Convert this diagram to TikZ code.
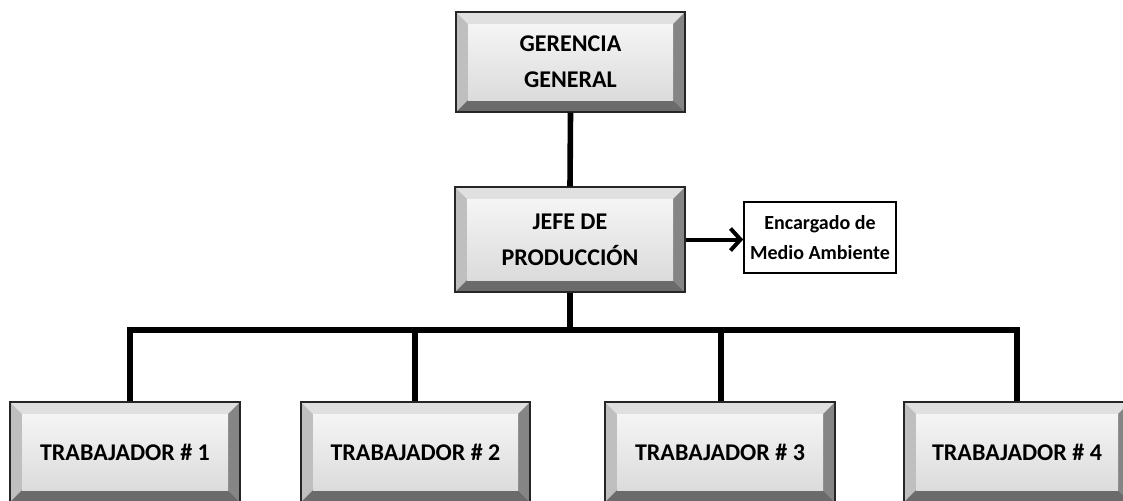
\documentclass[tikz,border=0pt]{standalone}
\usepackage{fontspec}
\setmainfont{Carlito}
\usetikzlibrary{arrows.meta, calc}

\tikzset{
  bevelbox/.style={draw=black!85, line width=0.6pt, inner sep=0pt, align=center,
    font=\fontsize{12}{18}\selectfont\bfseries,
    path picture={
      \coordinate (pnw) at (path picture bounding box.north west);
      \coordinate (pne) at (path picture bounding box.north east);
      \coordinate (psw) at (path picture bounding box.south west);
      \coordinate (pse) at (path picture bounding box.south east);
      % bevel edges
      \fill[black!12] (pnw) -- (pne) -- ([shift={(-6pt,-6pt)}]pne) -- ([shift={(6pt,-6pt)}]pnw) -- cycle;
      \fill[black!25] (pnw) -- (psw) -- ([shift={(6pt,6pt)}]psw) -- ([shift={(6pt,-6pt)}]pnw) -- cycle;
      \fill[black!48] (pne) -- (pse) -- ([shift={(-6pt,6pt)}]pse) -- ([shift={(-6pt,-6pt)}]pne) -- cycle;
      \fill[black!58] (psw) -- (pse) -- ([shift={(-6pt,6pt)}]pse) -- ([shift={(6pt,6pt)}]psw) -- cycle;
      % face
      \shade[top color=black!4, bottom color=black!14]
        ([shift={(6pt,-6pt)}]pnw) rectangle ([shift={(-6pt,6pt)}]pse);
    }},
  notebox/.style={draw=black, line width=0.8pt, fill=white, inner sep=0pt, align=center,
    font=\fontsize{10}{15}\selectfont\bfseries},
  link/.style={line width=2.8pt}
}

\begin{document}
\begin{tikzpicture}[x=0.5pt, y=-0.5pt]
        \clip (0,0) rectangle (1123,500);

        \node[bevelbox, minimum width=114.5pt, minimum height=50pt] (gg) at (570.5,62) {GERENCIA\\GENERAL};
        \node[bevelbox, minimum width=115pt, minimum height=52.5pt] (jp) at (570,239.5) {JEFE DE\\PRODUCCIÓN};
        \node[notebox, minimum width=76pt, minimum height=35.5pt] (enc) at (820,237.5) {Encargado de\\Medio Ambiente};

        \node[bevelbox, minimum width=115pt, minimum height=50pt] (w1) at (125,452) {TRABAJADOR \# 1};
        \node[bevelbox, minimum width=114.5pt, minimum height=50pt] (w2) at (415.5,452) {TRABAJADOR \# 2};
        \node[bevelbox, minimum width=115pt, minimum height=50pt] (w3) at (720,452) {TRABAJADOR \# 3};
        \node[bevelbox, minimum width=113pt, minimum height=50pt] (w4) at (1017,452) {TRABAJADOR \# 4};

        \coordinate (d1) at (130,330);
        \coordinate (d2) at (415,330);
        \coordinate (d3) at (721,330);
        \coordinate (d4) at (1017,330);

        \draw[link] (gg.south) -- (jp.north);
        \draw[link] (jp.south) -- (jp.south |- d1);
        \draw[link] (d1 |- w1.north) -- (d1) -- (d4) -- (d4 |- w4.north);
        \draw[link] (d2) -- (d2 |- w2.north);
        \draw[link] (d3) -- (d3 |- w3.north);

        \draw[line width=2pt, -{Straight Barb[length=5pt, width=11pt]}] (jp.east) -- (jp.east -| enc.west);
    \end{tikzpicture}
\end{document}
